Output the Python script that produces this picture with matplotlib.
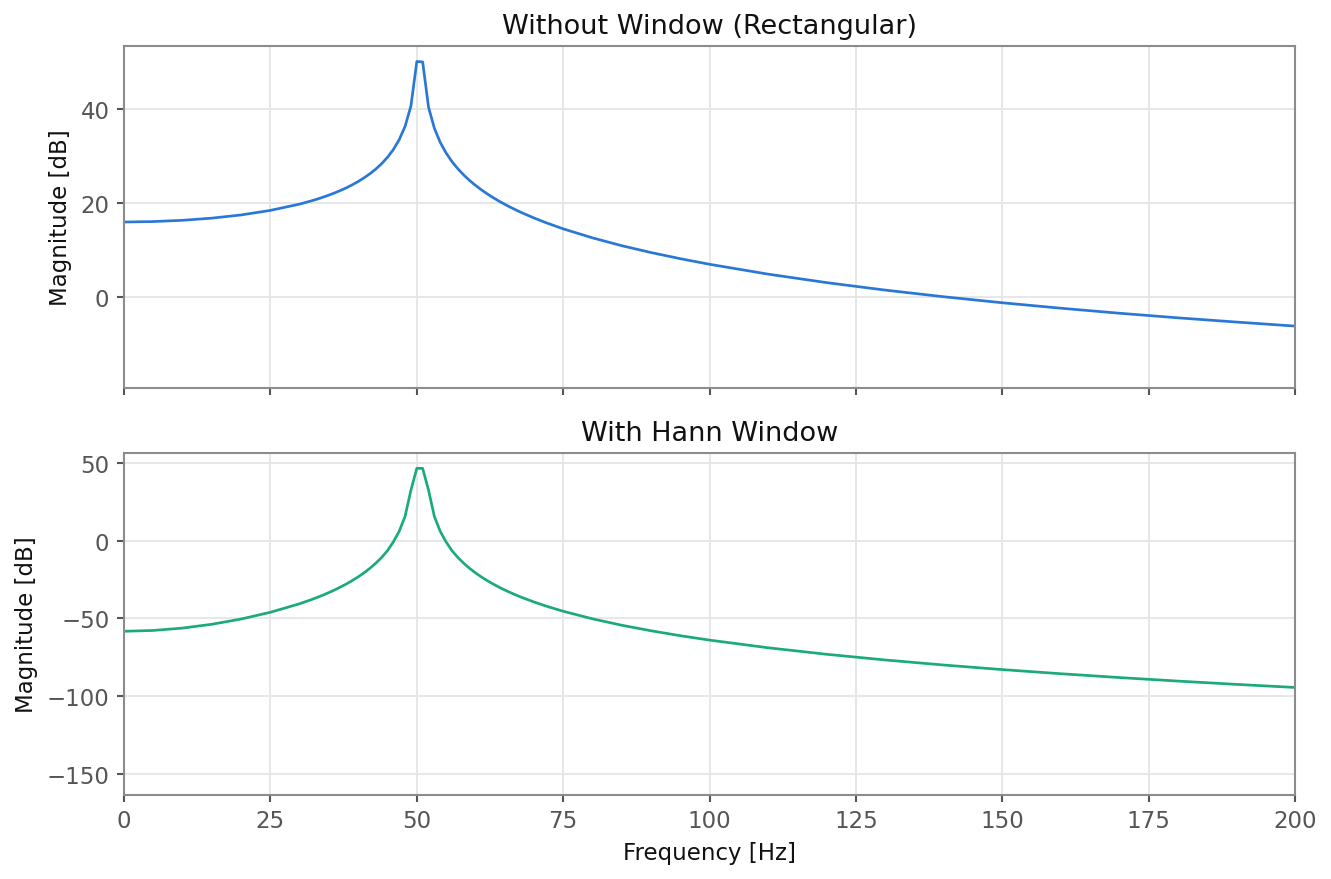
import matplotlib
matplotlib.use("Agg")
import matplotlib.pyplot as plt

# frequency bins [Hz] (1 Hz steps near the peak)
freq = [0, 5, 10, 15, 20, 25, 30, 32, 33, 34, 35, 36, 37, 38, 39, 40, 41, 42,
        43, 44, 45, 46, 47, 48, 49, 50, 51, 52, 53, 54, 55, 56, 57, 58, 59,
        60, 61, 62, 63, 64, 65, 66, 67, 68, 70, 72, 75, 80, 85, 90, 95, 100,
        110, 120, 130, 140, 150, 160, 170, 180, 190, 200]

# magnitude [dB], rectangular window
mag_rect = [15.90, 16.00, 16.27, 16.73, 17.41, 18.38, 19.72, 20.41, 20.79,
            21.20, 21.64, 22.12, 22.64, 23.21, 23.84, 24.54, 25.32, 26.19,
            27.18, 28.34, 29.70, 31.35, 33.45, 36.29, 40.64, 50.10, 50.01,
            40.39, 35.87, 32.87, 30.61, 28.79, 27.26, 25.94, 24.77, 23.73,
            22.79, 21.92, 21.13, 20.38, 19.69, 19.04, 18.43, 17.85, 16.77,
            15.79, 14.45, 12.53, 10.86, 9.40, 8.09, 6.90, 4.80, 2.99, 1.40,
            -0.02, -1.30, -2.46, -3.53, -4.51, -5.41, -6.27]

# magnitude [dB], Hann window
mag_hann = [-58.27, -57.75, -56.23, -53.77, -50.40, -46.06, -40.55, -37.92,
            -36.49, -34.97, -33.35, -31.63, -29.77, -27.78, -25.61, -23.24,
            -20.64, -17.74, -14.48, -10.76, -6.40, -0.74, 6.10, 15.66, 32.56,
            46.53, 46.50, 32.53, 15.60, 6.02, -0.80, -6.41, -10.76, -14.49,
            -17.75, -20.65, -23.26, -25.64, -27.81, -29.82, -31.68, -33.42,
            -35.06, -36.59, -39.42, -41.98, -45.40, -50.27, -54.39, -57.96,
            -61.12, -63.96, -68.89, -73.08, -76.74, -79.99, -82.92, -85.59,
            -88.05, -90.32, -92.44, -94.42]

spine_col = "#8c8c8c"
tick_col = "#555555"

fig = plt.figure(figsize=(1331 / 150, 880 / 150), dpi=150)
ax1 = fig.add_axes([0.0932, 0.5580, 0.8798, 0.3889])
ax2 = fig.add_axes([0.0932, 0.0958, 0.8798, 0.3883], sharex=ax1)

ax1.plot(freq, mag_rect, color="#2a78d6", linewidth=1.3)
ax2.plot(freq, mag_hann, color="#1bab7a", linewidth=1.3)

ax1.set_title("Without Window (Rectangular)", fontsize=13, color="#111111")
ax2.set_title("With Hann Window", fontsize=13, color="#111111")

ax1.set_ylim(-19.45, 53.46)
ax2.set_ylim(-163.4, 56.4)
ax1.set_xlim(0, 200)
ax1.set_xticks([0, 25, 50, 75, 100, 125, 150, 175, 200])
ax1.set_yticks([0, 20, 40])
ax2.set_yticks([-150, -100, -50, 0, 50])

for ax in (ax1, ax2):
    ax.set_ylabel("Magnitude [dB]", fontsize=11, color="#111111")
    ax.grid(True, color="#e6e6e6", linewidth=0.9)
    ax.set_axisbelow(True)
    for s in ax.spines.values():
        s.set_color(spine_col)
        s.set_linewidth(1.0)
    ax.tick_params(colors=tick_col, labelsize=11, length=3.5, width=1.0)

ax1.tick_params(labelbottom=False)
ax2.set_xlabel("Frequency [Hz]", fontsize=11, color="#111111")

fig.savefig("out.png", dpi=150)
